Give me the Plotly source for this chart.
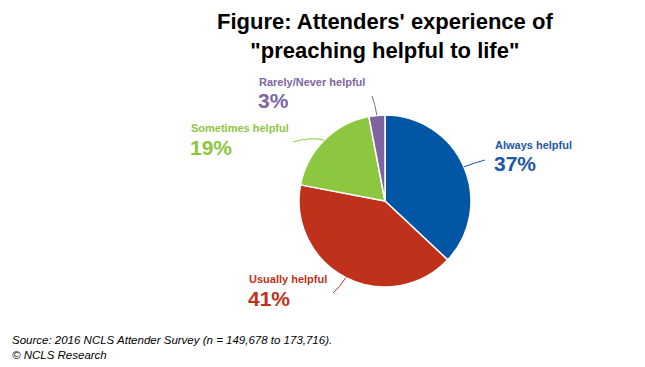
import math
import plotly.graph_objects as go

categories = ["Always helpful", "Usually helpful", "Sometimes helpful", "Rarely/Never helpful"]
values = [37, 41, 19, 3]
slice_colors = ["#0156A5", "#C0311B", "#8DC63F", "#8064A2"]
text_colors = ["#1E57A4", "#C0311B", "#8DC63F", "#8064A2"]

W, H = 645, 367
cx, cy, r = 385, 201, 86

label_pos = {
    "Always helpful": (493, 145),
    "Usually helpful": (247, 279),
    "Sometimes helpful": (189, 128),
    "Rarely/Never helpful": (257, 82),
}
leader_ends = {
    "Always helpful": (485, 160),
    "Usually helpful": (333, 293),
    "Sometimes helpful": (293, 142),
    "Rarely/Never helpful": (372, 96),
}

def px(x):
    return x / W

def py(y):
    return 1 - y / H

fig = go.Figure()
fig.add_trace(go.Pie(
    labels=categories,
    values=values,
    sort=False,
    direction="clockwise",
    rotation=0,
    marker=dict(colors=slice_colors, line=dict(color="white", width=1.5)),
    textinfo="none",
    hoverinfo="label+percent",
    showlegend=False,
    domain=dict(x=[px(cx - r), px(cx + r)], y=[py(cy + r), py(cy - r)]),
))

total = sum(values)
cum = 0
shapes = []
annotations = []
for cat, v, tc in zip(categories, values, text_colors):
    mid = (cum + v / 2) / total * 2 * math.pi
    cum += v
    sx = cx + r * math.sin(mid)
    sy = cy - r * math.cos(mid)
    ex, ey = leader_ends[cat]
    qx = sx + (ex - sx) * 0.3 + (sx - cx) / r * 6
    qy = sy + (ey - sy) * 0.3 + (sy - cy) / r * 6
    shapes.append(dict(
        type="path", xref="paper", yref="paper",
        path=f"M {px(sx)},{py(sy)} Q {px(qx)},{py(qy)} {px(ex)},{py(ey)}",
        line=dict(color=tc, width=1),
    ))
    lx, ly = label_pos[cat]
    annotations.append(dict(
        x=px(lx), y=py(ly), xref="paper", yref="paper",
        xanchor="left", yanchor="middle", showarrow=False,
        text=f"<b>{cat}</b>",
        font=dict(family="Liberation Sans, Arial", size=11, color=tc),
    ))
    annotations.append(dict(
        x=px(lx - 1), y=py(ly + 19), xref="paper", yref="paper",
        xanchor="left", yanchor="middle", showarrow=False,
        text=f"<b>{v}%</b>",
        font=dict(family="Liberation Sans, Arial", size=21, color=tc),
    ))

annotations.append(dict(
    x=px(385), y=py(36), xref="paper", yref="paper",
    xanchor="center", yanchor="middle", showarrow=False,
    text="<b>Figure: Attenders' experience of<br>\"preaching helpful to life\"</b>",
    font=dict(family="Liberation Sans, Arial", size=22, color="black"),
))
annotations.append(dict(
    x=px(10), y=py(347), xref="paper", yref="paper",
    xanchor="left", yanchor="middle", showarrow=False, align="left",
    text="<i>Source: 2016 NCLS Attender Survey (n = 149,678 to 173,716).<br>© NCLS Research</i>",
    font=dict(family="Liberation Sans, Arial", size=11.5, color="black"),
))

fig.update_layout(
    width=W, height=H,
    margin=dict(l=0, r=0, t=0, b=0),
    paper_bgcolor="white", plot_bgcolor="white",
    shapes=shapes, annotations=annotations,
)
fig.write_html(
    "out.html",
    config={"displayModeBar": False},
    post_script="document.body.style.margin='0';document.body.style.overflow='hidden';",
)
